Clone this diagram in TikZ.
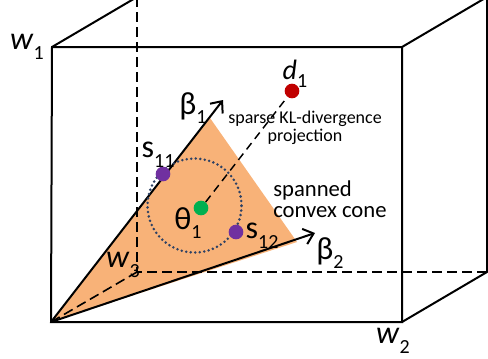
\documentclass[tikz,border=0pt]{standalone}
\usepackage{fontspec}
\setmainfont{Carlito}
\usetikzlibrary{arrows.meta,positioning}
\definecolor{ConeOrange}{RGB}{248,178,120}
\definecolor{PointRed}{RGB}{192,0,0}
\definecolor{PointGreen}{RGB}{0,176,80}
\definecolor{PointPurple}{RGB}{112,48,160}
\definecolor{RingBlue}{RGB}{45,65,100}
\newcommand{\lowsub}[1]{\raisebox{-0.3em}{\fontsize{15}{15}\selectfont #1}}

\begin{document}
\begin{tikzpicture}[x=0.75pt,y=-0.75pt,
    edge/.style={line width=1.5pt},
    hidden/.style={line width=1.2pt,dash pattern=on 7.5pt off 3.75pt},
    vec/.style={-{Straight Barb[length=7pt,width=12pt]},line width=1.5pt},
    dot/.style={circle,inner sep=0pt,minimum size=11pt},
    ring/.style={circle,draw=RingBlue,line width=2.1pt,line cap=round,
                 dash pattern=on 0pt off 3.4pt,minimum size=70.5pt,inner sep=0pt},
    lbl/.style={font=\fontsize{24}{24}\selectfont,inner sep=0pt},
    note/.style={inner sep=0pt,font=\fontsize{13.5}{13.5}\selectfont},
    bignote/.style={inner sep=0pt,font=\fontsize{17}{17}\selectfont}
  ]
    \useasboundingbox (0,0) rectangle (488,358);
    \clip (0,0) rectangle (488,358);
    % front and back faces of the box
    \coordinate (ftl) at (52,47);
    \coordinate (ftr) at (402,47);
    \coordinate (fbr) at (402,322);
    \coordinate (fbl) at (51,322);
    \coordinate (btl) at (137,-3);
    \coordinate (btr) at (487,-3);
    \coordinate (bbr) at (487,272);
    \coordinate (bbl) at (137,272);
    % cone
    \coordinate (ctop) at (210,118);
    \coordinate (cright) at (297,242);
    \coordinate (b1tip) at (223,100);
    \coordinate (b2tip) at (315,233);
    \fill[ConeOrange] (fbl) -- (ctop) -- (cright) -- cycle;

    \draw[edge] (ftl) -- (ftr) -- (fbr) -- (fbl) -- cycle;
    \draw[edge] (ftl) -- (btl) -- (btr) -- (bbr) -- (fbr);
    \draw[edge] (ftr) -- (btr);
    \draw[hidden] (btl) -- (bbl) -- (bbr);
    \draw[hidden] (fbl) -- (bbl);

    \draw[vec] (fbl) -- (b1tip);
    \draw[vec] (fbl) -- (b2tip);

    \node[ring] (nbhd) at (194.5,205.5) {};
    \node[dot,fill=PointRed] (d1) at (292,91) {};
    \node[dot,fill=PointGreen] (t1) at (201,208) {};
    \node[dot,fill=PointPurple] (s11) at (163,174) {};
    \node[dot,fill=PointPurple] (s12) at (236,232) {};
    \draw[line width=1.1pt,dash pattern=on 6pt off 4pt] (t1) -- (d1);

    \node[lbl] at (27,47) {\textit{w}\lowsub{1}};
    \node[lbl] at (393,341) {\textit{w}\lowsub{2}};
    \node[lbl] at (123,265) {\textit{w}\lowsub{3}};
    \node[lbl] at (193,108) {β\lowsub{1}};
    \node[lbl] at (330,253) {β\lowsub{2}};
    \node[lbl] at (158,155) {s\lowsub{11}};
    \node[lbl] at (262,236) {s\lowsub{12}};
    \node[lbl] at (188,223) {θ\lowsub{1}};
    \node[lbl,font=\fontsize{21}{21}\selectfont] at (295,74) {\textit{d}\lowsub{1}};
    \node[note,anchor=base] (kl1) at (305,123) {sparse KL-divergence};
    \node[note,anchor=base] (kl2) at (305,141) {projection};
    \node[bignote,anchor=base west] (cone1) at (273,196) {spanned};
    \node[bignote,anchor=base west] (cone2) at (273,217) {convex cone};
\end{tikzpicture}
\end{document}
